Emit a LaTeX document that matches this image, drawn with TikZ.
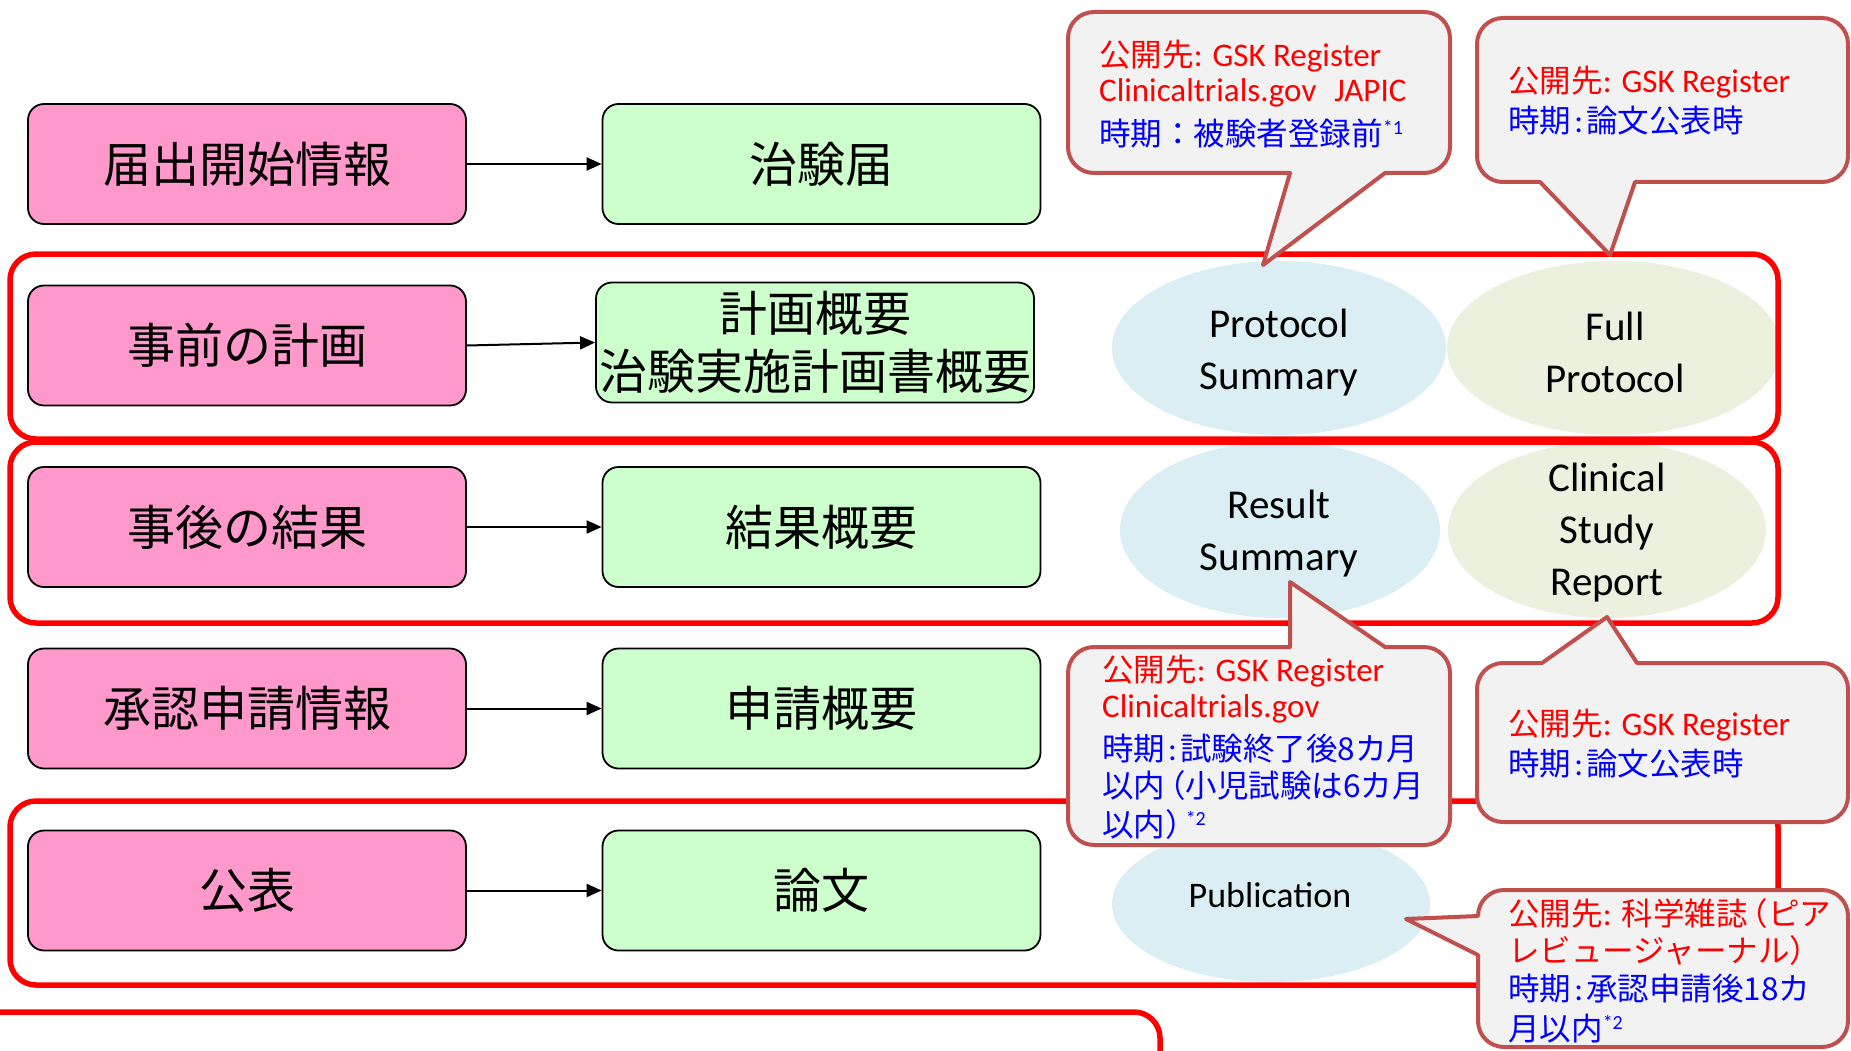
\documentclass[tikz,border=0pt]{standalone}
\usepackage{fontspec}
\setmainfont{Carlito}
\newfontfamily\jp{Noto Sans CJK JP}
\newfontfamily\jc[Scale=0.955]{Noto Sans CJK JP}
\usetikzlibrary{arrows.meta,shapes.geometric}
\definecolor{pinkfill}{HTML}{FF99CC}
\definecolor{greenfill}{HTML}{CCFFCC}
\definecolor{ellblue}{HTML}{DAEEF3}
\definecolor{ellolive}{HTML}{EBF1DE}
\definecolor{callfill}{HTML}{F2F2F2}
\definecolor{callborder}{HTML}{C0504D}
\newcommand\supmark[1]{\raisebox{11pt}{\fontsize{20}{20}\selectfont #1}}
\begin{document}
\begin{tikzpicture}[x=1pt,y=-1pt,
  pinkbox/.style={draw=black, line width=1.8pt, fill=pinkfill, rounded corners=16pt,
    minimum width=438pt, minimum height=120pt, inner sep=0pt,
    font=\jp\fontsize{48}{58}\selectfont, align=center},
  greenbox/.style={pinkbox, fill=greenfill},
  arrowline/.style={-{Triangle[length=15pt,width=13pt]}, line width=2pt},
  redframe/.style={draw=red, line width=5.5pt, rounded corners=26pt},
  bubble/.style={draw=callborder, fill=callfill, line width=4pt, line join=round},
  elltext/.style={inner sep=0pt, align=center, font=\fontsize{41}{52}\selectfont},
  ellnode/.style={ellipse, draw=none, inner sep=0pt},
  redtxt/.style={text=red, anchor=base west, inner sep=0pt, font=\fontsize{33}{37}\selectfont},
  bluetxt/.style={redtxt, text=blue}
]
\useasboundingbox (0,0) rectangle (1851,1051);
\clip (0,0) rectangle (1851,1051);
\fill[white] (0,0) rectangle (1851,1051);

% left column boxes
\node[pinkbox] (p1) at (247,164) {届出開始情報};
\node[pinkbox] (p2) at (247,345.5) {事前の計画};
\node[pinkbox] (p3) at (247,527) {事後の結果};
\node[pinkbox] (p4) at (247,708.5) {承認申請情報};
\node[pinkbox] (p5) at (247,890.5) {公表};

\node[greenbox] (g1) at (821.5,164) {治験届};
\node[greenbox] (g2) at (815,342.5) {計画概要\\治験実施計画書概要};
\node[greenbox] (g3) at (821.5,527) {結果概要};
\node[greenbox] (g4) at (821.5,708.5) {申請概要};
\node[greenbox] (g5) at (821.5,890.5) {論文};

\draw[arrowline] (p1.east) -- (g1.west);
\draw[arrowline] (p2.east) -- (g2.west);
\draw[arrowline] (p3.east) -- (g3.west);
\draw[arrowline] (p4.east) -- (g4.west);
\draw[arrowline] (p5.east) -- (g5.west);

% ellipses
\node[ellnode, fill=ellblue, minimum width=334pt, minimum height=174pt] (eps) at (1279,348) {};
\node[ellnode, fill=ellolive, minimum width=334pt, minimum height=174pt] (efp) at (1614,348) {};
\node[ellnode, fill=ellblue, minimum width=320pt, minimum height=176pt] (ers) at (1280,530) {};
\node[ellnode, fill=ellolive, minimum width=318pt, minimum height=176pt] (ecsr) at (1607,530) {};
\node[ellnode, fill=ellblue, minimum width=318pt, minimum height=156pt] (epub) at (1271,904) {};

\node[elltext] (tps) at (1279,353) {Protocol\\Summary};
\node[elltext] (tfp) at (1615,352) {Full\\Protocol};
\node[elltext] (trs) at (1279,534) {Result\\Summary};
\node[elltext] (tcsr) at (1607,533) {Clinical\\Study\\Report};
\node[inner sep=0pt, font=\fontsize{36}{42}\selectfont] (tpub) at (1270,895) {Publication};

% red frames
\draw[redframe] (10,254) rectangle (1778,439);
\draw[redframe] (10,442) rectangle (1778,623);
\draw[redframe] (10,801) rectangle (1778,985);
\draw[redframe] (-60,1012) rectangle (1160,1120);

% callout A
\draw[bubble] (1094,12) -- (1424,12) .. controls (1438.4,12) and (1450,23.6) .. (1450,38)
  -- (1450,147) .. controls (1450,161.4) and (1438.4,173) .. (1424,173)
  -- (1385,173) -- (1263,265) -- (1290,173)
  -- (1094,173) .. controls (1079.6,173) and (1068,161.4) .. (1068,147)
  -- (1068,38) .. controls (1068,23.6) and (1079.6,12) .. (1094,12) -- cycle;
\node[redtxt] (a1) at (1099,67) {{\jc 公開先}: GSK Register};
\node[redtxt] (a2) at (1099,102) {Clinicaltrials.gov\hspace{18pt}JAPIC};
\node[bluetxt] (a3) at (1099,146) {{\jc 時期：被験者登録前}\supmark{*1}};

% callout B
\draw[bubble] (1503,18) -- (1822,18) .. controls (1836.4,18) and (1848,29.6) .. (1848,44)
  -- (1848,156) .. controls (1848,170.4) and (1836.4,182) .. (1822,182)
  -- (1635,182) -- (1610,255) -- (1540,182)
  -- (1503,182) .. controls (1488.6,182) and (1477,170.4) .. (1477,156)
  -- (1477,44) .. controls (1477,29.6) and (1488.6,18) .. (1503,18) -- cycle;
\node[redtxt] (b1) at (1508,93) {{\jc 公開先}: GSK Register};
\node[bluetxt] (b2) at (1508,133) {{\jc 時期}\hspace{3pt}:\hspace{3pt}{\jc 論文公表時}};

% callout C
\draw[bubble] (1094,647) -- (1290,647) -- (1290,582) -- (1385,647)
  -- (1424,647) .. controls (1438.4,647) and (1450,658.6) .. (1450,673)
  -- (1450,819) .. controls (1450,833.4) and (1438.4,845) .. (1424,845)
  -- (1094,845) .. controls (1079.6,845) and (1068,833.4) .. (1068,819)
  -- (1068,673) .. controls (1068,658.6) and (1079.6,647) .. (1094,647) -- cycle;
\node[redtxt] (c1) at (1102,681) {{\jc 公開先}: GSK Register};
\node[redtxt] (c2) at (1102,717) {Clinicaltrials.gov};
\node[bluetxt] (c3) at (1102,760) {{\jc 時期}\hspace{3pt}:\hspace{3pt}{\jc 試験終了後8カ月}};
\node[bluetxt] (c4) at (1102,797) {{\jc 以内\kern-11pt（小児試験は6カ月}};
\node[bluetxt] (c5) at (1102,836) {{\jc 以内）\kern-11pt}\supmark{*2}};

% callout D
\draw[bubble] (1503,663) -- (1542,663) -- (1607,617) -- (1637,663)
  -- (1822,663) .. controls (1836.4,663) and (1848,674.6) .. (1848,689)
  -- (1848,796) .. controls (1848,810.4) and (1836.4,822) .. (1822,822)
  -- (1503,822) .. controls (1488.6,822) and (1477,810.4) .. (1477,796)
  -- (1477,689) .. controls (1477,674.6) and (1488.6,663) .. (1503,663) -- cycle;
\node[redtxt] (d1) at (1508,735) {{\jc 公開先}: GSK Register};
\node[bluetxt] (d2) at (1508,775) {{\jc 時期}\hspace{3pt}:\hspace{3pt}{\jc 論文公表時}};

% callout E
\draw[bubble] (1504,890) -- (1822,890) .. controls (1836.4,890) and (1848,901.6) .. (1848,916)
  -- (1848,1021) .. controls (1848,1035.4) and (1836.4,1047) .. (1822,1047)
  -- (1504,1047) .. controls (1489.6,1047) and (1478,1035.4) .. (1478,1021)
  -- (1478,955) -- (1406,919) -- (1478,916)
  .. controls (1478,901.6) and (1489.6,890) .. (1504,890) -- cycle;
\node[redtxt] (e1) at (1508,925) {{\jc 公開先}: {\jc 科学雑誌\kern-11pt（ピア}};
\node[redtxt] (e2) at (1508,962) {{\jc レビュージャーナル）}};
\node[bluetxt] (e3) at (1508,1000) {{\jc 時期}\hspace{3pt}:\hspace{3pt}{\jc 承認申請後18カ}};
\node[bluetxt] (e4) at (1508,1040) {{\jc 月以内}\supmark{*2}};
\end{tikzpicture}
\end{document}
